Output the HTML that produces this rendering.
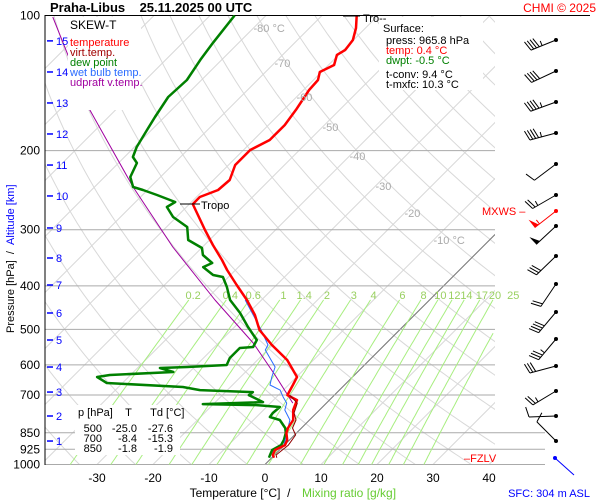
<!DOCTYPE html>
<html><head><meta charset="utf-8"><style>
body{margin:0;background:#fff;}
svg{display:block;font-family:"Liberation Sans",sans-serif;}
</style></head><body>
<svg id="c" width="600" height="500" viewBox="0 0 600 500">
<defs><clipPath id="plotclip"><rect x="45" y="15" width="450" height="450"/></clipPath></defs>
<g id="grid" clip-path="url(#plotclip)"></g>
<g id="hlines"></g>
<g id="mix"></g>
<g id="series" clip-path="url(#plotclip)"></g>
<g id="labels"></g>
<g id="barbs"></g>
</svg>
<script>
// ---- data ----
const pressureTicks=[100,200,300,400,500,600,700,850,925,1000];
const tempTicks=[-30,-20,-10,0,10,20,30,40];
const isoLabels=[-80,-70,-60,-50,-40,-30,-20,-10];
const mixRatios=[0.2,0.4,0.6,1,1.4,2,3,4,6,8,10,12,14,17,20,25];
const altKm=[1,2,3,4,5,6,7,8,9,10,11,12,13,14,15];
const altP=[886.6,779.8,689.7,606.6,528.1,459.8,398.3,346.8,297.3,252.3,215.3,183.6,156.6,133.6,113.9];
const tempP=[100,106.6,113.4,119.3,122.4,128.9,133.6,139.2,146.5,162.3,175.4,189.4,199.3,215.3,232.5,244.7,253.7,263,300.4,324.4,350.4,368.9,398.3,430.2,464.5,501.6,541.9,555.9,585.2,638.5,665.3,700.4,718.6,756.2,796.1,829.4,851,882.1,905.1,928.5,952.6,965.8];
const tempT=[-63.8,-61.7,-60.1,-59.7,-60.3,-59.0,-60.3,-59.2,-59.0,-57.8,-57.1,-57.1,-58.8,-58.8,-57.1,-57.4,-59.4,-59.4,-52.6,-48.5,-44.2,-41.5,-37.1,-32.6,-28.5,-25.0,-20.1,-18.3,-14.7,-9.9,-9.2,-8.4,-5.8,-4.7,-2.9,-2.4,-1.8,-0.4,0.1,-0.8,-0.3,0.4];
const dewP=[100,115,125.6,139.2,151.9,168.3,179.9,196.3,206.6,213.1,228.9,241,244.7,251.1,260.3,267,281.1,295.8,316.2,329.5,341.5,355.9,363.3,378.4,382.3,402.4,430.2,459.8,494,528.1,547.5,550.3,579.2,600.4,606.6,609.8,622.3,632,638.5,658.5,672.2,682.7,689.7,700.4,726.1,733.6,737.4,744.7,768,784,796.1,829.4,851,882.1,905.1,928.5,952.6,965.8];
const dewT=[-85.6,-84.6,-83.8,-82.6,-82.9,-81.7,-80.8,-79.6,-78.5,-76.7,-75.4,-73.1,-70.8,-67.4,-62.9,-63.5,-60.6,-56.3,-53.8,-49.9,-48.5,-45.4,-46.3,-43.1,-41.0,-38.5,-35.6,-31.5,-27.6,-23.7,-23.1,-25.3,-25.3,-24.6,-31.3,-36.0,-32.9,-43.7,-45.6,-42.8,-28.5,-24.9,-15.1,-15.3,-11.5,-21.9,-12.1,-7.6,-7.8,-7.6,-5.3,-2.9,-1.9,-1.0,-0.6,-1.3,-0.8,-0.5];
const wetP=[430.2,464.5,501.6,541.9,555.9,606.6,638.5,665.3,682.7,707.6,729.8,756.2,796.1,829.4,851,905.1,938,965.8];
const wetT=[-32.9,-28.8,-24.7,-20.8,-20.4,-15.6,-14.4,-13.3,-10.6,-8.8,-7.1,-6.2,-3.5,-2.4,-1.7,-0.1,-0.8,0.1];
const virtP=[700.4,729.8,768,796.1,829.4,859.8,905.1,952.6,965.8];
const virtT=[-8.0,-5.2,-4.0,-2.4,-1.6,0.2,0.7,0.3,0.9];
const parcelP=[100.8,162.3,241,327.8,430.2,536.3,632,729.8];
const parcelT=[-117.8,-94.6,-73.1,-55.3,-38.3,-23.8,-14.2,-6.0];
const windY=[40,71,102,133,164,195,211,226,256,284,312,339,366,391,416,441];
const windDir=[248,245,250,255,233,240,232,227,226,214,220,220,255,239,268,315];
const windSpd=[45,40,45,45,10,25,55,50,30,20,40,35,30,25,10,10];

// ---- axes ----
const Y0=15.5,DEC=449,X0=265,PX=5.6,YB=464.5;
function yP(p){return Y0+DEC*Math.log10(p/100);}
function xT(t,p){return X0+PX*t+(YB-yP(p));}
const NS="http://www.w3.org/2000/svg";
function el(tag,attrs,parent){const e=document.createElementNS(NS,tag);for(const k in attrs)e.setAttribute(k,attrs[k]);parent.appendChild(e);return e;}
function pathFrom(P,T){return P.map((p,i)=>(i?'L':'M')+xT(T[i],p).toFixed(1)+','+yP(p).toFixed(1)).join('');}
const grid=document.getElementById('grid'),hl=document.getElementById('hlines'),mix=document.getElementById('mix'),ser=document.getElementById('series'),lab=document.getElementById('labels'),brb=document.getElementById('barbs');

for(let t=-130;t<=40;t+=10){
  const l=el('line',{x1:xT(t,1000),y1:yP(1000),x2:xT(t,100),y2:yP(100),stroke:'#d8d8d8','stroke-width':1},grid);
  
  
}
for(let th=200;th<=480;th+=10){
  let d='';for(let p=1000;p>=100;p-=10){const t=th*Math.pow(p/1000,0.286)-273.15;d+=(d?'L':'M')+xT(t,p).toFixed(1)+','+yP(p).toFixed(1);}
  const a=el('path',{d:d,fill:'none',stroke:'#d8d8d8','stroke-width':1},grid);
  
  
}
const z=el('line',{x1:xT(0,1000),y1:yP(1000),x2:495,y2:yP(1000)-(495-xT(0,1000)),stroke:'#777','stroke-width':1},grid);


pressureTicks.forEach(p=>{
  const y=yP(p);const x2=p===100?590:(p>=850?545:495);
  const l=el('line',{x1:45,y1:y,x2:x2,y2:y,stroke:p===100?'#000':'#aaa','stroke-width':1},hl);
  
  
  const t=el('text',{x:40,y:y+4,'text-anchor':'end','font-size':12,fill:'#000'},lab);t.textContent=p;
  
  
});
el('line',{x1:45,y1:15,x2:45,y2:465,stroke:'#000','stroke-width':1},hl);
mixRatios.forEach(w=>{
  let d='';
  for(let p=430;p<=1000;p+=10){const e=w*p/(622+w);const L=Math.log(e/6.112);const td=243.5*L/(17.67-L);const x=xT(td,p);if(x>495)continue;d+=(d?'L':'M')+x.toFixed(1)+','+yP(p).toFixed(1);}
  const m=el('path',{d:d,fill:'none',stroke:'#a8ee80','stroke-width':1},mix);
  
  
  const e=w*400/(622+w);const L=Math.log(e/6.112);const td=243.5*L/(17.67-L);
  const t=el('text',{x:xT(td,400)-6,y:299,'text-anchor':'middle','font-size':11,fill:'#99d060'},mix);t.textContent=w;
  
  
});
const isoLabelY=[28,63,97,127,156,186,213,240];
isoLabels.forEach((t,i)=>{
  const y=isoLabelY[i];const p=100*Math.pow(10,(y-Y0)/DEC);
  const tx=el('text',{x:xT(t,p),y:y+4,'font-size':11,fill:'#aaa'},lab);tx.textContent=(t===-80||t===-10)?t+' °C':t;
  
  
});
function series(P,T,color,w,name){const s=el('path',{d:pathFrom(P,T),fill:'none',stroke:color,'stroke-width':w,'stroke-linejoin':'round'},ser);}
series(parcelP,parcelT,'#a000a0',1,'updraft-line');
series(dewP,dewT,'#008000',2.5,'dewpoint-line');
series(wetP,wetT,'#2a6cff',1,'wet-bulb-line');
series(tempP,tempT,'#ff0000',2.5,'temperature-line');
series(virtP,virtT,'#900000',1,'virtual-temp-line');
tempTicks.forEach(t=>{
  const x=X0+PX*t;const tx=el('text',{x:x,y:482,'text-anchor':'middle','font-size':12,fill:'#000'},lab);tx.textContent=t;
  
  
});
altKm.forEach((k,i)=>{
  const y=yP(altP[i]);
  el('line',{x1:47,y1:y,x2:53,y2:y,stroke:'#0000ff','stroke-width':1.5},lab);
  const tx=el('text',{x:56,y:y+4,'font-size':11,fill:'#0000ff'},lab);tx.textContent=k;
  
  
});
windY.forEach((y,i)=>{
  const col=i===6?'#ff0000':'#000';const x0=556;const a=windDir[i]*Math.PI/180;
  const dx=Math.sin(a),dy=-Math.cos(a);const L=27;const x1=x0+dx*L,y1=y+dy*L;
  const g=el('g',{},brb);
  
  
  el('line',{x1:x0,y1:y,x2:x1,y2:y1,stroke:col,'stroke-width':1},g);
  el('circle',{cx:x0,cy:y,r:2,fill:col},g);
  let s=windSpd[i];let pos=0;const px=-dy,py=dx;
  while(s>=50){const bx=x1-dx*pos,by=y1-dy*pos;el('polygon',{points:`${bx},${by} ${bx+px*10},${by+py*10} ${bx-dx*5},${by-dy*5}`,fill:col},g);pos+=6;s-=50;}
  while(s>=10){const bx=x1-dx*pos,by=y1-dy*pos;el('line',{x1:bx,y1:by,x2:bx+px*10+dx*3,y2:by+py*10+dy*3,stroke:col,'stroke-width':1},g);pos+=3;s-=10;}
  if(s>=5){const bx=x1-dx*pos,by=y1-dy*pos;el('line',{x1:bx,y1:by,x2:bx+px*5,y2:by+py*5,stroke:col,'stroke-width':1},g);}
});
el('line',{x1:555,y1:458,x2:574,y2:475,stroke:'#0000ff','stroke-width':1},brb);
el('circle',{cx:555,cy:458,r:2,fill:'#0000ff'},brb);
</script>
<svg width="600" height="500" style="position:absolute;left:0;top:0">
<g font-family="Liberation Sans, sans-serif">
<text x="50" y="12" font-size="13" font-weight="bold">Praha-Libus&#160;&#160;&#160;&#160;25.11.2025 00 UTC</text>
<text x="596" y="12" font-size="12" fill="#ff0000" text-anchor="end">CHMI © 2025</text>
<rect x="68" y="17" width="73" height="93" fill="#fff"/>
<text x="70" y="29" font-size="12">SKEW-T</text>
<text x="70" y="46" font-size="11" fill="#ff0000">temperature</text>
<text x="70" y="56" font-size="11" fill="#a00000">virt.temp.</text>
<text x="70" y="66" font-size="11" fill="#008000">dew point</text>
<text x="70" y="76" font-size="11" fill="#2a6cff">wet bulb temp.</text>
<text x="70" y="86" font-size="11" fill="#a000a0">udpraft v.temp.</text>
<rect x="379" y="17" width="104" height="73" fill="#fff"/>
<text x="383" y="32" font-size="11">Surface:</text>
<text x="386" y="44" font-size="11">press: 965.8 hPa</text>
<text x="386" y="54" font-size="11" fill="#ff0000">temp: 0.4 °C</text>
<text x="386" y="64" font-size="11" fill="#008000">dwpt: -0.5 °C</text>
<text x="386" y="78" font-size="11">t-conv: 9.4 °C</text>
<text x="386" y="88" font-size="11">t-mxfc: 10.3 °C</text>
<line x1="343" y1="16" x2="360" y2="16" stroke="#000"/>
<text x="363" y="22" font-size="11">Tro--</text>
<line x1="180" y1="204" x2="200" y2="204" stroke="#000"/>
<text x="201" y="209" font-size="11">Tropo</text>
<rect x="75" y="405" width="105" height="50" fill="#fff"/>
<text x="78" y="416" font-size="11">p [hPa]&#160;&#160;&#160;&#160;T&#160;&#160;&#160;&#160;&#160;&#160;Td [°C]</text>
<g font-size="11" text-anchor="end">
<text x="102" y="432">500</text><text x="137" y="432">-25.0</text><text x="173" y="432">-27.6</text>
<text x="102" y="442">700</text><text x="137" y="442">-8.4</text><text x="173" y="442">-15.3</text>
<text x="102" y="452">850</text><text x="137" y="452">-1.8</text><text x="173" y="452">-1.9</text>
</g>
<text x="482" y="215" font-size="11" fill="#ff0000">MXWS –</text>
<text x="464" y="462" font-size="11" fill="#ff0000">–FZLV</text>
<text x="240" y="497" font-size="12" text-anchor="middle">Temperature [°C]&#160;&#160;/</text>
<text x="302" y="497" font-size="12" fill="#66cc33">Mixing ratio [g/kg]</text>
<text x="590" y="497" font-size="11" fill="#0000ff" text-anchor="end">SFC: 304 m ASL</text>
<g transform="translate(14,333) rotate(-90)">
<text x="0" y="0" font-size="11">Pressure [hPa]&#160;&#160;/&#160;&#160;<tspan fill="#0000ff">Altitude [km]</tspan></text>
</g>
</g>
</svg>
</body></html>
